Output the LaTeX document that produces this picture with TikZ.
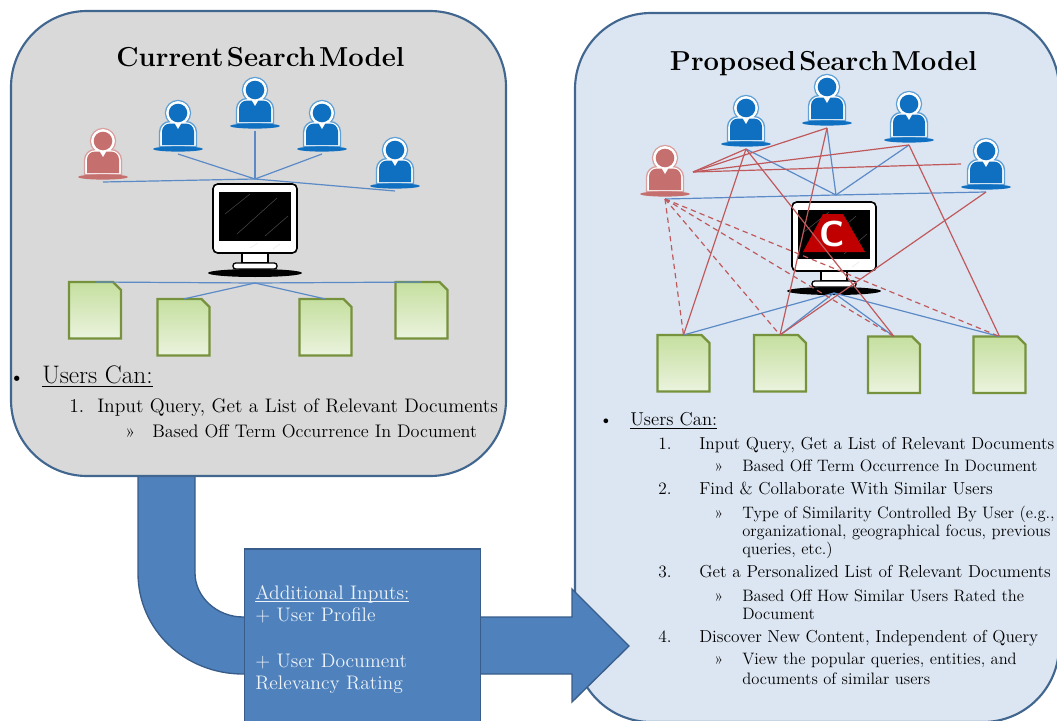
\documentclass[tikz,border=0pt]{standalone}
\usepackage{amssymb}
\usepackage{amsmath}
\usepackage{tikz}

\definecolor{panelline}{HTML}{41668F}
\definecolor{greypanel}{HTML}{D9D9D9}
\definecolor{bluepanel}{HTML}{DCE6F2}
\definecolor{arrowfill}{HTML}{4F81BD}
\definecolor{arrowline}{HTML}{385D8A}
\definecolor{userblue}{HTML}{0F6FC0}
\definecolor{userhalo}{HTML}{5FA0D6}
\definecolor{userpink}{HTML}{C56F6E}
\definecolor{pinkhalo}{HTML}{D9A09F}
\definecolor{docline}{HTML}{76923C}
\definecolor{doctop}{HTML}{C5DF9F}
\definecolor{docbottom}{HTML}{EBF3DE}
\definecolor{bluelink}{HTML}{5B8AC6}
\definecolor{redlink}{HTML}{C0595C}
\definecolor{logored}{HTML}{C00000}

\newcommand{\tightwords}{\spaceskip 0.12em\relax}

\tikzset{
    panel/.style={draw=panelline, line width=1.6pt, rounded corners=57pt},
    bluelk/.style={draw=bluelink, line width=0.9pt},
    redlk/.style={draw=redlink, line width=0.9pt},
    reddash/.style={draw=redlink, line width=0.9pt, dash pattern=on 4pt off 3pt},
    titletext/.style={anchor=base, inner sep=0pt, font=\fontsize{20.6}{24}\selectfont\bfseries\tightwords},
    lcantext/.style={anchor=base west, inner sep=0pt, text=black, font=\fontsize{19}{22}\selectfont},
    litemtext/.style={anchor=base west, inner sep=0pt, text=black, font=\fontsize{14.67}{17}\selectfont},
    lsubtext/.style={anchor=base west, inner sep=0pt, text=black, font=\fontsize{13.65}{16}\selectfont},
    rcantext/.style={anchor=base west, inner sep=0pt, text=black, font=\fontsize{14}{17}\selectfont},
    ritemtext/.style={anchor=base west, inner sep=0pt, text=black, font=\fontsize{13}{15}\selectfont},
    rsubtext/.style={anchor=base west, inner sep=0pt, text=black, font=\fontsize{12.4}{14}\selectfont},
    boxtext/.style={anchor=base west, inner sep=0pt, text=white!90!arrowfill, font=\fontsize{14.7}{17}\selectfont},
    pics/person/.style 2 args={code={
        \draw[#2, line width=1pt, fill=white] (0,-36) circle (12.5);
        \draw[#2, line width=1pt, fill=white] (-18.5,-2.5) [rounded corners=8pt] -- (-18.5,-27.5) -- (18.5,-27.5) [sharp corners] -- (18.5,-2.5) -- cycle;
        \fill[white] (0,-36) circle (11.7);
        \fill[#1] (0,-36) circle (9.3);
        \fill[#1] (-16,-4) [rounded corners=6pt] -- (-16,-25.5) -- (16,-25.5) [sharp corners] -- (16,-4) -- cycle;
        \fill[white] (-3.5,-26) -- (3.5,-26) -- (0,-20) -- cycle;
        \fill[#1] (0,0) ellipse (25 and 2.6);
        \coordinate (-foot) at (0,5);
    }},
    pics/monitor/.style={code={
        \fill[black] (0,89) ellipse (47 and 4);
        \draw[black, line width=1pt, fill=white] (-13,68) rectangle (13,79);
        \draw[black, line width=1pt, fill=white, rounded corners=2pt] (-22,79) rectangle (22,85);
        \draw[black, line width=1.2pt, fill=white, rounded corners=3.5pt] (-42,0) rectangle (42,69);
        \fill[black] (-36,8) rectangle (36,57);
        \draw[black!72, line width=0.4pt] (-30,30) -- (-5,10) (-18,50) -- (22,14) (10,52) -- (33,32);
        \draw[black!8, line width=0.5pt] (-5,64) -- (3,59) (18,65) -- (25,60);
    }},
    pics/docsheet/.style={code={
        \draw[draw=docline, line width=1.7pt, top color=doctop, bottom color=docbottom] (-26,0) -- (18,0) -- (26,8) -- (26,56.5) -- (-26,56.5) -- cycle;
        \coordinate (-top) at (0,0);
    }}
}

\begin{document}
\begin{tikzpicture}[x=0.75pt, y=-0.75pt]
    \useasboundingbox (0,0) rectangle (1057,721);
    \clip (0,0) rectangle (1057,721);

    % panels and the big arrow
    \draw[panel, fill=bluepanel] (575,13) rectangle (1059,722);
    \draw[draw=arrowline, line width=1pt, fill=arrowfill] (138,470) -- (138,573)
        .. controls (138,630) and (185,674) .. (243,674) -- (572,674) -- (572,702) -- (629,646)
        -- (572,589) -- (572,617) -- (243,617)
        .. controls (217,617) and (195,597) .. (195,573) -- (195,470) -- cycle;
    \draw[panel, fill=greypanel] (11,11) rectangle (506,476);
    \node (inputbox) [draw=arrowline, line width=1.2pt, fill=arrowfill, inner sep=0pt, minimum width=177pt, minimum height=135pt, anchor=north west] at (243.5,548) {};

    % current model
    \node (ltitle) [titletext] at (260.5,66) {Current Search Model};
    \pic (lpink) at (103,177) {person={userpink}{pinkhalo}};
    \pic (lu1) at (178,149) {person={userblue}{userhalo}};
    \pic (lu2) at (255,126) {person={userblue}{userhalo}};
    \pic (lu3) at (322,149) {person={userblue}{userhalo}};
    \pic (lu4) at (395,186) {person={userblue}{userhalo}};
    \pic (lscreen) at (255,184) {monitor};
    \coordinate (lhub) at (255,179);
    \coordinate (ldochub) at (255,283);
    \pic (ld1) at (95,282) {docsheet};
    \pic (ld2) at (183.5,299) {docsheet};
    \pic (ld3) at (325.5,299) {docsheet};
    \pic (ld4) at (421.5,282) {docsheet};
    \draw[bluelk] (lpink-foot) -- (lhub);
    \draw[bluelk] (lu1-foot) -- (lhub);
    \draw[bluelk] (lu2-foot) -- (lhub);
    \draw[bluelk] (lu3-foot) -- (lhub);
    \draw[bluelk] (lu4-foot) -- (lhub);
    \draw[bluelk] (ld1-top) -- (ldochub);
    \draw[bluelk] (ld2-top) -- (ldochub);
    \draw[bluelk] (ld3-top) -- (ldochub);
    \draw[bluelk] (ld4-top) -- (ldochub);

    \node (lbullet) [litemtext] at (9,383) {\textbullet};
    \node (lcan) [lcantext] at (42,383) {\underline{Users Can:}};
    \node (lnum1) [litemtext] at (69,412) {1.};
    \node (litem1) [litemtext] at (97,412) {Input Query, Get a List of Relevant Documents};
    \node (lmark1) [lsubtext] at (125,437) {»};
    \node (lsub1) [lsubtext] at (152,437) {Based Off Term Occurrence In Document};

    % proposed model
    \node (rtitle) [titletext] at (823.5,70) {Proposed Search Model};
    \pic (rpink) at (665,194) {person={userpink}{pinkhalo}};
    \pic (ru1) at (746,144) {person={userblue}{userhalo}};
    \pic (ru2) at (827,123) {person={userblue}{userhalo}};
    \pic (ru3) at (909,140) {person={userblue}{userhalo}};
    \pic (ru4) at (986,187) {person={userblue}{userhalo}};
    \pic (rscreen) at (834,202) {monitor};
    \fill[logored] (823,214) -- (843,214) -- (865,252) -- (803,252) -- cycle;
    \node (rlogoc) [inner sep=0pt, text=white, font=\fontsize{27}{27}\selectfont\sffamily\bfseries] at (832,234) {C};
    \coordinate (rhub) at (836,195);
    \coordinate (rdochub) at (834,293);
    \coordinate (rfan) at (693,172);
    \coordinate (rfanend) at (961,164);
    \pic (rd1) at (683.5,335) {docsheet};
    \pic (rd2) at (780,335) {docsheet};
    \pic (rd3) at (894,336.5) {docsheet};
    \pic (rd4) at (999.5,336.5) {docsheet};
    \draw[bluelk] (rpink-foot) -- (rhub);
    \draw[bluelk] (ru1-foot) -- (rhub);
    \draw[bluelk] (ru2-foot) -- (rhub);
    \draw[bluelk] (ru3-foot) -- (rhub);
    \draw[bluelk] (ru4-foot) -- (rhub);
    \draw[bluelk] (rd1-top) -- (rdochub);
    \draw[bluelk] (rd2-top) -- (rdochub);
    \draw[bluelk] (rd3-top) -- (rdochub);
    \draw[bluelk] (rd4-top) -- (rdochub);
    \draw[redlk] (rfan) -- (ru1-foot);
    \draw[redlk] (rfan) -- (ru2-foot);
    \draw[redlk] (rfan) -- (ru3-foot);
    \draw[redlk] (rfan) -- (rfanend);
    \draw[redlk] (ru1-foot) -- (rd1-top);
    \draw[redlk] (ru1-foot) -- (rd3-top);
    \draw[redlk] (ru2-foot) -- (rd2-top);
    \draw[redlk] (ru3-foot) -- (rd4-top);
    \draw[redlk] (ru4-foot) -- (rd2-top);
    \draw[reddash] (rpink-foot) -- (rd1-top);
    \draw[reddash] (rpink-foot) -- (rd2-top);
    \draw[reddash] (rpink-foot) -- (rd3-top);
    \draw[reddash] (rpink-foot) -- (rd4-top);

    \node (rbullet) [ritemtext] at (599,425) {\textbullet};
    \node (rcan) [rcantext] at (630,425) {\underline{Users Can:}};
    \node (rnum1) [ritemtext] at (658,449) {1.};
    \node (ritem1) [ritemtext] at (699,449) {Input Query, Get a List of Relevant Documents};
    \node (rmark1) [rsubtext] at (714,471) {»};
    \node (rsub1) [rsubtext] at (742,471) {Based Off Term Occurrence In Document};
    \node (rnum2) [ritemtext] at (658,494) {2.};
    \node (ritem2) [ritemtext] at (699,494) {Find \& Collaborate With Similar Users};
    \node (rmark2) [rsubtext] at (714,518) {»};
    \node (rsub2a) [rsubtext] at (742,518) {Type of Similarity Controlled By User (e.g.,};
    \node (rsub2b) [rsubtext] at (742,536) {organizational, geographical focus, previous};
    \node (rsub2c) [rsubtext] at (742,554) {queries, etc.)};
    \node (rnum3) [ritemtext] at (658,577) {3.};
    \node (ritem3) [ritemtext] at (699,577) {Get a Personalized List of Relevant Documents};
    \node (rmark3) [rsubtext] at (714,601) {»};
    \node (rsub3a) [rsubtext] at (742,601) {Based Off How Similar Users Rated the};
    \node (rsub3b) [rsubtext] at (742,619) {Document};
    \node (rnum4) [ritemtext] at (658,642) {4.};
    \node (ritem4) [ritemtext] at (699,642) {Discover New Content, Independent of Query};
    \node (rmark4) [rsubtext] at (714,664) {»};
    \node (rsub4a) [rsubtext] at (742,664) {View the popular queries, entities, and};
    \node (rsub4b) [rsubtext] at (742,684) {documents of similar users};

    % text in the box
    \node (boxhead) [boxtext] at (255,599) {\underline{\smash{Additional Inputs:}}};
    \node (boxline1) [boxtext] at (255,621) {+ User Profile};
    \node (boxline2) [boxtext] at (255,667) {+ User Document};
    \node (boxline3) [boxtext] at (255,689) {Relevancy Rating};
\end{tikzpicture}
\end{document}
